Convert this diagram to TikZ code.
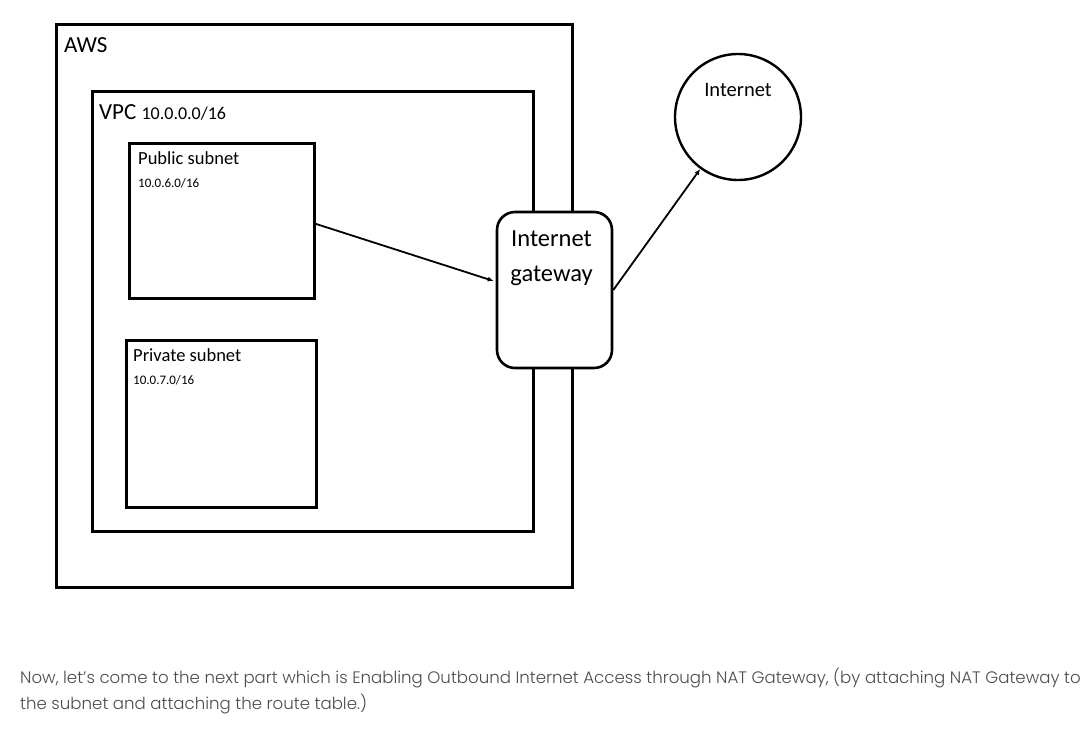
\documentclass[tikz,border=0pt]{standalone}
\usepackage{fontspec}
\setmainfont{Carlito}
\newfontfamily\capfont{Poppins Light}
\usepackage{tikz}
\usetikzlibrary{arrows.meta}

\begin{document}
\begin{tikzpicture}[x=1pt,y=-1pt]
    \useasboundingbox (0,0) rectangle (1089,729);

    \tikzset{box/.style={draw,line width=2.6pt,inner sep=0pt,anchor=north west},
             tag/.style={anchor=north west,inner sep=0pt},
             link/.style={line width=1.8pt,-{Latex[length=6pt,width=5pt]}}}

    % outer boxes
    \node[box,minimum width=516pt,minimum height=563pt] (aws) at (55,23) {};
    \node[tag,font=\fontsize{23}{26}\selectfont] (awslbl) at (64,37) {AWS};
    \node[box,minimum width=441pt,minimum height=440pt] (vpc) at (91,90) {};
    \node[tag,font=\fontsize{23}{26}\selectfont] (vpclbl) at (99,104)
        {VPC {\fontsize{18}{20}\selectfont 10.0.0.0/16}};

    % subnets
    \node[box,minimum width=185pt,minimum height=155pt] (pub) at (128,142) {};
    \node[tag,align=left] (publbl) at (138,151)
        {{\fontsize{18.5}{20}\selectfont Public subnet}\\[11pt]{\fontsize{13}{14}\selectfont 10.0.6.0/16}};
    \node[box,minimum width=190pt,minimum height=167pt] (priv) at (125,339) {};
    \node[tag,align=left] (privlbl) at (133,348)
        {{\fontsize{18.5}{20}\selectfont Private subnet}\\[11pt]{\fontsize{13}{14}\selectfont 10.0.7.0/16}};

    % gateway and internet
    \node[draw,fill=white,line width=2.6pt,rounded corners=18pt,
          minimum width=115pt,minimum height=156pt] (igw) at (554.5,290) {};
    \node[anchor=north,align=center,font=\fontsize{24.5}{35}\selectfont] (igwlbl)
        at ([yshift=-17pt,xshift=-3pt]igw.north) {Internet\\gateway};
    \node[draw,circle,line width=2.4pt,minimum size=126pt] (inet) at (738,117) {};
    \node[anchor=north,font=\fontsize{20.5}{22}\selectfont] (inetlbl)
        at ([yshift=-27pt]inet.north) {Internet};

    \draw[link] ([yshift=-3pt]pub.east) -- ([yshift=9pt,xshift=-2pt]igw.west);
    \draw[link] (igw.east) -- (inet.234);

    % caption
    \node[anchor=north west,inner sep=0pt,text=black!70,font=\capfont\fontsize{16.6}{26}\selectfont,align=left]
        (caption) at (20,668)
        {Now, let’s come to the next part which is Enabling Outbound Internet Access through NAT Gateway, (by attaching NAT Gateway to\\
         the subnet and attaching the route table.)};
\end{tikzpicture}
\end{document}
